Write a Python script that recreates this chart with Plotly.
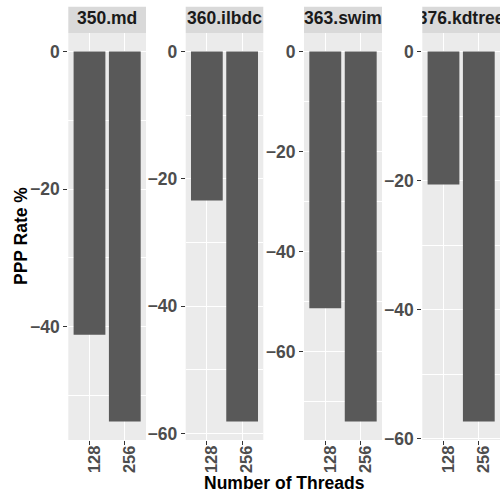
import plotly.graph_objects as go

# ---- data ----
benchmarks = ["350.md", "360.ilbdc", "363.swim", "376.kdtree"]
threads = ["128", "256"]
rate_128 = [-41.2, -23.4, -51.3, -20.6]
rate_256 = [-53.8, -58.1, -73.9, -57.3]
y_ticks = [[0, -20, -40], [0, -20, -40, -60], [0, -20, -40, -60], [0, -20, -40, -60]]

W, H = 502, 496
panel_px = [(68.3, 146.0), (185.7, 263.3), (304.0, 382.0), (422.3, 500.0)]
panel_top, panel_bot = 33.0, 440.0
strip_top = 6.7

def fx(px):
    return px / W

def fy(py):
    return 1 - py / H

FONT = "Liberation Sans, Arial, Helvetica, sans-serif"
FS = 17.5

fig = go.Figure()
layout = dict(
    width=W, height=H,
    margin=dict(l=0, r=0, t=0, b=0),
    paper_bgcolor="white",
    plot_bgcolor="rgba(0,0,0,0)",
    showlegend=False,
    bargap=0.1,
    shapes=[], annotations=[],
)

for i, name in enumerate(benchmarks):
    n = i + 1
    xa = "x" if n == 1 else f"x{n}"
    ya = "y" if n == 1 else f"y{n}"
    vals = [rate_128[i], rate_256[i]]
    fig.add_trace(go.Bar(x=threads, y=vals, xaxis=xa, yaxis=ya,
                         marker=dict(color="#595959", line=dict(width=0)),
                         width=0.9))
    lo = min(vals + [0])
    hi = max(vals + [0])
    span = hi - lo
    yr = [lo - 0.05 * span, hi + 0.05 * span]
    x0, x1 = panel_px[i]
    xdom = [fx(x0), fx(x1)]
    ydom = [fy(panel_bot), fy(panel_top)]
    key_x = "xaxis" if n == 1 else f"xaxis{n}"
    key_y = "yaxis" if n == 1 else f"yaxis{n}"
    layout[key_x] = dict(
        domain=xdom, anchor=ya, type="category", range=[-0.6, 1.6],
        tickangle=-90, ticks="outside", ticklen=4, tickwidth=1, tickcolor="#333333",
        ticklabelshift=5, ticklabelstandoff=-6,
        showgrid=True, gridcolor="white", gridwidth=1.3,
        showline=False, zeroline=False, automargin=False,
        tickfont=dict(family=FONT, size=16.5, color="#4D4D4D", weight="bold"),
    )
    layout[key_y] = dict(
        domain=ydom, anchor=xa, range=yr,
        tickvals=y_ticks[i], ticks="outside", ticklen=4, tickwidth=1, tickcolor="#333333",
        showgrid=True, gridcolor="white", gridwidth=1.3,
        minor=dict(dtick=10, tick0=0, showgrid=True, gridcolor="white", gridwidth=0.6, ticks=""),
        showline=False, zeroline=False, automargin=False,
        tickfont=dict(family=FONT, size=FS, color="#4D4D4D", weight="bold"),
    )
    # panel background
    layout["shapes"].append(dict(type="rect", xref="paper", yref="paper",
                                 x0=xdom[0], x1=xdom[1], y0=ydom[0], y1=ydom[1],
                                 fillcolor="#EBEBEB", line=dict(width=0), layer="below"))
    # strip background
    layout["shapes"].append(dict(type="rect", xref="paper", yref="paper",
                                 x0=xdom[0], x1=xdom[1], y0=fy(panel_top), y1=fy(strip_top),
                                 fillcolor="#D9D9D9", line=dict(width=0), layer="below"))
    # strip text in its own clipped subplot
    sn = n + 4
    sxa, sya = f"x{sn}", f"y{sn}"
    layout[f"xaxis{sn}"] = dict(domain=xdom, anchor=sya, range=[0, 1], visible=False, fixedrange=True)
    layout[f"yaxis{sn}"] = dict(domain=[fy(panel_top), fy(strip_top)], anchor=sxa, range=[0, 1],
                                visible=False, fixedrange=True)
    fig.add_trace(go.Scatter(x=[0.5], y=[0.5], xaxis=sxa, yaxis=sya, mode="text",
                             text=[name], textposition="middle center", cliponaxis=True,
                             textfont=dict(family=FONT, size=FS, color="#1A1A1A", weight="bold"),
                             hoverinfo="skip"))

layout["annotations"].append(dict(
    text="Number of Threads", xref="paper", yref="paper",
    x=fx((panel_px[0][0] + panel_px[3][1]) / 2), y=fy(483), showarrow=False,
    xanchor="center", yanchor="middle",
    font=dict(family=FONT, size=FS, color="black", weight="bold")))
layout["annotations"].append(dict(
    text="PPP Rate %", xref="paper", yref="paper", textangle=-90,
    x=fx(20.5), y=fy((panel_top + panel_bot) / 2), showarrow=False,
    xanchor="center", yanchor="middle",
    font=dict(family=FONT, size=FS, color="black", weight="bold")))

fig.update_layout(**layout)
fig.write_html("out.html")
